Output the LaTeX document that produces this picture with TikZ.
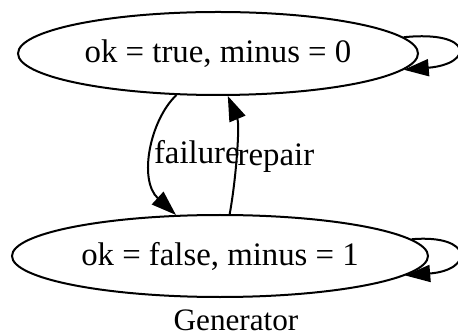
\documentclass[tikz,border=0pt]{standalone}
\usepackage{fontspec}
\setmainfont{Liberation Serif}
\usetikzlibrary{arrows.meta, shapes.geometric}

\begin{document}
\begin{tikzpicture}[x=0.5pt, y=-0.5pt,
  every node/.style={font=\fontsize{16.4}{19}\selectfont},
  state/.style={draw, ellipse, line width=1pt, inner sep=0pt},
  edge/.style={line width=1pt, -{Triangle[length=12.5pt, width=8.5pt]}},
  lbl/.style={inner sep=0.5pt, anchor=base west, yshift=-6pt}]
  \useasboundingbox (0,0) rectangle (458,335);

  % States
  \node[state, minimum width=200pt, minimum height=41.5pt] (up) at (218,53.5) {ok = true, minus = 0};
  \node[state, minimum width=208pt, minimum height=41pt] (down) at (220,256) {ok = false, minus = 1};

  % Transitions between the states
  \draw[edge] (up.225) .. controls (150,120) and (138,180) .. (down.137)
    node[lbl, pos=0.5] {failure};
  \draw[edge] (down.77) .. controls (236,180) and (240,125) .. (up.283)
    node[lbl, pos=0.5] {repair};

  % Self loops
  \draw[edge] (up.5) .. controls (474,30) and (474,64) .. (up.-5);
  \draw[edge] (down.5) .. controls (474,234) and (474,270) .. (down.-6);

  \node[anchor=base, inner sep=0pt, font=\fontsize{15.6}{18}\selectfont] (title) at (236,330) {Generator};
\end{tikzpicture}
\end{document}
